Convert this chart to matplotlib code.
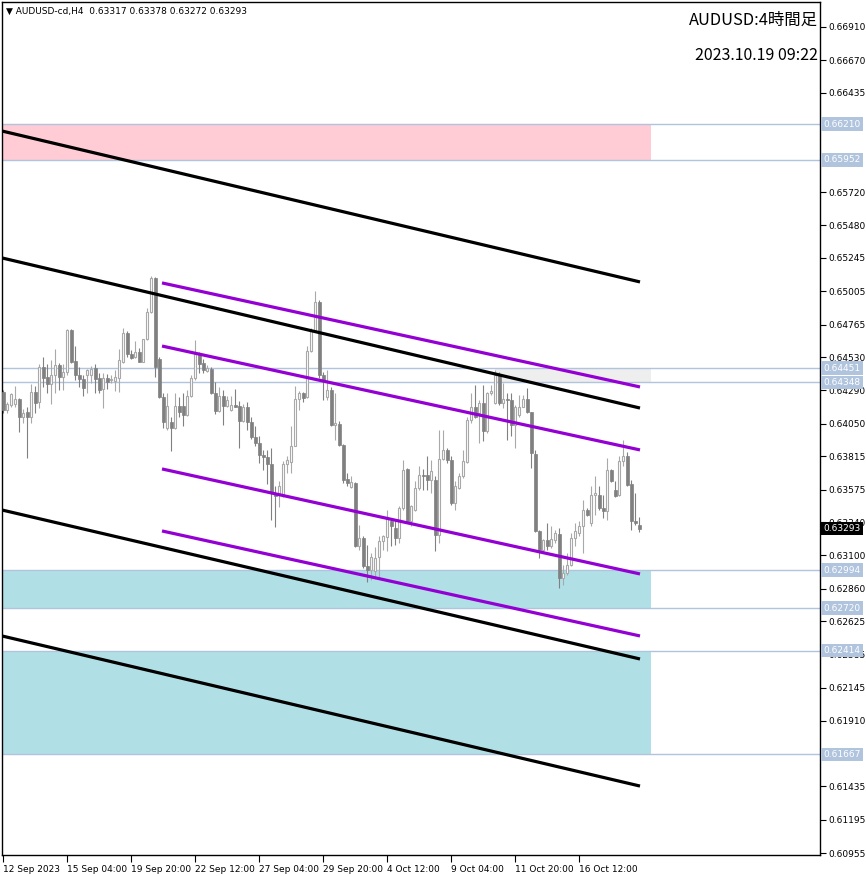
import matplotlib
matplotlib.use('Agg')
import matplotlib.pyplot as plt
from matplotlib.patches import Rectangle
import matplotlib.transforms as mtransforms

# ---------------- data ----------------
symbol_line = "AUDUSD-cd,H4  0.63317 0.63378 0.63272 0.63293"
title_right = "AUDUSD:4時間足"
time_right = "2023.10.19 09:22"

# OHLC of 4H bars (bar 0 = 12 Sep 2023 12:00)
ohlc = [
    (0.64282, 0.64294, 0.64126, 0.64150), (0.64150, 0.64210, 0.64126, 0.64193),
    (0.64186, 0.64270, 0.64174, 0.64263), (0.64191, 0.64323, 0.64174, 0.64227),
    (0.64227, 0.64234, 0.63987, 0.64102), (0.64097, 0.64157, 0.64054, 0.64126),
    (0.64131, 0.64174, 0.63802, 0.64102), (0.64102, 0.64337, 0.64054, 0.64277),
    (0.64277, 0.64323, 0.64126, 0.64198), (0.64210, 0.64481, 0.64162, 0.64462),
    (0.64462, 0.64529, 0.64318, 0.64383), (0.64385, 0.64481, 0.64275, 0.64335),
    (0.64335, 0.64510, 0.64193, 0.64404), (0.64402, 0.64589, 0.64270, 0.64474),
    (0.64472, 0.64486, 0.64294, 0.64390), (0.64385, 0.64481, 0.64294, 0.64426),
    (0.64421, 0.64731, 0.64402, 0.64726), (0.64726, 0.64731, 0.64486, 0.64498),
    (0.64503, 0.64611, 0.64366, 0.64402), (0.64402, 0.64457, 0.64313, 0.64371),
    (0.64373, 0.64402, 0.64251, 0.64306), (0.64402, 0.64448, 0.64275, 0.64438),
    (0.64402, 0.64467, 0.64342, 0.64443), (0.64450, 0.64481, 0.64270, 0.64373),
    (0.64383, 0.64414, 0.64270, 0.64294), (0.64299, 0.64414, 0.64162, 0.64383),
    (0.64383, 0.64409, 0.64299, 0.64354), (0.64366, 0.64402, 0.64342, 0.64373),
    (0.64361, 0.64438, 0.64287, 0.64385), (0.64378, 0.64587, 0.64282, 0.64510),
    (0.64498, 0.64738, 0.64486, 0.64702), (0.64707, 0.64721, 0.64534, 0.64551),
    (0.64551, 0.64582, 0.64515, 0.64522), (0.64534, 0.64649, 0.64522, 0.64565),
    (0.64568, 0.64594, 0.64493, 0.64498), (0.64498, 0.64664, 0.64493, 0.64659),
    (0.64659, 0.64882, 0.64654, 0.64853), (0.64853, 0.65117, 0.64846, 0.65098),
    (0.65098, 0.65105, 0.64390, 0.64462), (0.64517, 0.64529, 0.64234, 0.64241),
    (0.64241, 0.64275, 0.64018, 0.64059), (0.64018, 0.64270, 0.64006, 0.64179),
    (0.64061, 0.64102, 0.63850, 0.64018), (0.64018, 0.64270, 0.64013, 0.64181),
    (0.64179, 0.64246, 0.64102, 0.64136), (0.64179, 0.64270, 0.64037, 0.64112),
    (0.64112, 0.64294, 0.64107, 0.64251), (0.64251, 0.64402, 0.64246, 0.64383),
    (0.64378, 0.64654, 0.64366, 0.64553), (0.64553, 0.64570, 0.64414, 0.64481),
    (0.64491, 0.64517, 0.64414, 0.64438), (0.64433, 0.64474, 0.64426, 0.64450),
    (0.64443, 0.64462, 0.64265, 0.64270), (0.64275, 0.64354, 0.64121, 0.64145),
    (0.64145, 0.64318, 0.64131, 0.64251), (0.64251, 0.64294, 0.64042, 0.64179),
    (0.64181, 0.64251, 0.64174, 0.64222), (0.64150, 0.64251, 0.64145, 0.64186),
    (0.64186, 0.64299, 0.64169, 0.64174), (0.64181, 0.64217, 0.63874, 0.64066),
    (0.64066, 0.64193, 0.64061, 0.64174), (0.64174, 0.64210, 0.64006, 0.64061),
    (0.64061, 0.64102, 0.63941, 0.63951), (0.63951, 0.64037, 0.63886, 0.63910),
    (0.63910, 0.63958, 0.63766, 0.63826), (0.63826, 0.63862, 0.63713, 0.63809),
    (0.63809, 0.63862, 0.63617, 0.63761), (0.63761, 0.63874, 0.63358, 0.63550),
    (0.63550, 0.63598, 0.63308, 0.63526), (0.63538, 0.63634, 0.63452, 0.63598),
    (0.63538, 0.63778, 0.63521, 0.63761), (0.63761, 0.63814, 0.63694, 0.63785),
    (0.63773, 0.64030, 0.63694, 0.63891), (0.63891, 0.64323, 0.63886, 0.64227),
    (0.64227, 0.64289, 0.64150, 0.64270), (0.64270, 0.64282, 0.64210, 0.64234),
    (0.64241, 0.64611, 0.64234, 0.64577), (0.64577, 0.64738, 0.64570, 0.64719),
    (0.64719, 0.65007, 0.64714, 0.64930), (0.64930, 0.64942, 0.64378, 0.64402),
    (0.64402, 0.64426, 0.64222, 0.64366), (0.64246, 0.64438, 0.64222, 0.64294),
    (0.64294, 0.64318, 0.64030, 0.64042), (0.64042, 0.64270, 0.63934, 0.64054),
    (0.64049, 0.64071, 0.63886, 0.63893), (0.63898, 0.63905, 0.63622, 0.63646),
    (0.63651, 0.63694, 0.63598, 0.63622), (0.63591, 0.63670, 0.63586, 0.63629),
    (0.63622, 0.63627, 0.63161, 0.63166), (0.63166, 0.63322, 0.63142, 0.63226),
    (0.63226, 0.63238, 0.63010, 0.63022), (0.63027, 0.63178, 0.62910, 0.62998),
    (0.62998, 0.63118, 0.62920, 0.63087), (0.62991, 0.63161, 0.62930, 0.63082),
    (0.63087, 0.63238, 0.62940, 0.63202), (0.63202, 0.63250, 0.63142, 0.63238),
    (0.63233, 0.63430, 0.63130, 0.63370), (0.63346, 0.63370, 0.63166, 0.63310),
    (0.63298, 0.63358, 0.63178, 0.63226), (0.63226, 0.63454, 0.63190, 0.63442),
    (0.63442, 0.63790, 0.63430, 0.63718), (0.63723, 0.63730, 0.63334, 0.63346),
    (0.63346, 0.63466, 0.63310, 0.63454), (0.63430, 0.63634, 0.63418, 0.63586),
    (0.63586, 0.63742, 0.63574, 0.63682), (0.63682, 0.63723, 0.63574, 0.63670),
    (0.63682, 0.63819, 0.63574, 0.63646), (0.63646, 0.63790, 0.63550, 0.63706),
    (0.63646, 0.63670, 0.63130, 0.63250), (0.63250, 0.64006, 0.63190, 0.63795),
    (0.63795, 0.64006, 0.63790, 0.63862), (0.63862, 0.63874, 0.63766, 0.63790),
    (0.63790, 0.63814, 0.63466, 0.63478), (0.63478, 0.63634, 0.63430, 0.63598),
    (0.63586, 0.63694, 0.63579, 0.63670), (0.63670, 0.63862, 0.63658, 0.63778),
    (0.63771, 0.64102, 0.63766, 0.64078), (0.64078, 0.64275, 0.64054, 0.64174),
    (0.64174, 0.64330, 0.64090, 0.64102), (0.64126, 0.64222, 0.63910, 0.64198),
    (0.64198, 0.64330, 0.63922, 0.63994), (0.63994, 0.64282, 0.63982, 0.64270),
    (0.64270, 0.64330, 0.64258, 0.64287), (0.64198, 0.64438, 0.64193, 0.64402),
    (0.64402, 0.64426, 0.64186, 0.64198), (0.64198, 0.64342, 0.64162, 0.64227),
    (0.64227, 0.64270, 0.63934, 0.64222), (0.64222, 0.64270, 0.63958, 0.64042),
    (0.64042, 0.64186, 0.63874, 0.64174), (0.64114, 0.64258, 0.64102, 0.64174),
    (0.64174, 0.64258, 0.64169, 0.64227), (0.64227, 0.64306, 0.64126, 0.64131),
    (0.64131, 0.64138, 0.63730, 0.63838), (0.63833, 0.63862, 0.63269, 0.63274),
    (0.63274, 0.63286, 0.63082, 0.63142), (0.63142, 0.63218, 0.63118, 0.63214),
    (0.63214, 0.63334, 0.63142, 0.63166), (0.63166, 0.63310, 0.63154, 0.63219),
    (0.63214, 0.63286, 0.63190, 0.63262), (0.63257, 0.63298, 0.62866, 0.62938),
    (0.62938, 0.63034, 0.62890, 0.62974), (0.62974, 0.63118, 0.62962, 0.63034),
    (0.63034, 0.63262, 0.63027, 0.63226), (0.63226, 0.63334, 0.63166, 0.63274),
    (0.63262, 0.63346, 0.63238, 0.63310), (0.63310, 0.63502, 0.63118, 0.63430),
    (0.63425, 0.63442, 0.63382, 0.63394), (0.63334, 0.63598, 0.63310, 0.63538),
    (0.63538, 0.63670, 0.63394, 0.63550), (0.63538, 0.63598, 0.63430, 0.63442),
    (0.63442, 0.63538, 0.63370, 0.63418), (0.63418, 0.63802, 0.63358, 0.63718),
    (0.63713, 0.63723, 0.63627, 0.63634), (0.63574, 0.63634, 0.63521, 0.63526),
    (0.63538, 0.63814, 0.63531, 0.63778), (0.63778, 0.63934, 0.63742, 0.63814),
    (0.63814, 0.63843, 0.63598, 0.63610), (0.63617, 0.63646, 0.63286, 0.63346),
    (0.63351, 0.63550, 0.63322, 0.63334), (0.63317, 0.63378, 0.63272, 0.63293),
]
opens = [r[0] for r in ohlc]
highs = [r[1] for r in ohlc]
lows = [r[2] for r in ohlc]
closes = [r[3] for r in ohlc]
last_price = 0.63293

# horizontal levels (zone boundaries)
levels = [0.66210, 0.65952, 0.64451, 0.64348, 0.62994, 0.62720, 0.62414, 0.61667]
# zones
zone_low = [0.65952, 0.64348, 0.62720, 0.61667]
zone_high = [0.66210, 0.64451, 0.62994, 0.62414]
zone_start = [-0.25, 123.0, -0.25, -0.25]
zone_end = [162.0, 162.0, 162.0, 162.0]
zone_colors = ['#FFCCD5', '#EEEEEE', '#B0E0E6', '#B0E0E6']

# trend lines: (x0, y0, x1, y1)
black_lines = [
    (-0.25, 0.66160, 159.25, 0.65072),
    (-0.25, 0.65245, 159.25, 0.64163),
    (-0.25, 0.63428, 159.25, 0.62354),
    (-0.25, 0.62520, 159.25, 0.61438),
]
purple_lines = [
    (39.75, 0.65065, 159.25, 0.64315),
    (39.75, 0.64610, 159.25, 0.63861),
    (39.75, 0.63724, 159.25, 0.62967),
    (39.75, 0.63277, 159.25, 0.62520),
]

y_ticks = [0.66910, 0.66670, 0.66435, 0.66195, 0.65955, 0.65720, 0.65480, 0.65245,
           0.65005, 0.64765, 0.64530, 0.64290, 0.64050, 0.63815, 0.63575, 0.63340,
           0.63100, 0.62860, 0.62625, 0.62385, 0.62145, 0.61910, 0.61670, 0.61435,
           0.61195, 0.60955]
# tick labels fully hidden behind level labels in the reference
hidden_ticks = [0.66195, 0.65955, 0.61670]
x_tick_pos = [0, 16, 32, 48, 64, 80, 96, 112, 128, 144]
x_tick_labels = ['12 Sep 2023', '15 Sep 04:00', '19 Sep 20:00', '22 Sep 12:00',
                 '27 Sep 04:00', '29 Sep 20:00', '4 Oct 12:00', '9 Oct 04:00',
                 '11 Oct 20:00', '16 Oct 12:00']

# ---------------- figure ----------------
W, H = 866, 876
fig = plt.figure(figsize=(W / 100, H / 100), dpi=100)
fig.patch.set_facecolor('white')
ax = fig.add_axes([2 / W, 21 / H, 818 / W, 853 / H])
ax.set_xlim(-0.25, 204.25)
ax.set_ylim(0.60941, 0.67090)
ax.set_facecolor('white')

for lo, hi, xs, xe, c in zip(zone_low, zone_high, zone_start, zone_end, zone_colors):
    ax.add_patch(Rectangle((xs, lo), xe - xs, hi - lo, facecolor=c, edgecolor='none', zorder=0.5))

for lv in levels:
    ax.axhline(lv, color='#B0C4DE', lw=1.0, zorder=1)

# candles
bull_c = '#A9A9A9'
bear_c = '#808080'
xs = list(range(len(opens)))
wick_cols = [bull_c if c >= o else bear_c for o, c in zip(opens, closes)]
ax.vlines(xs, lows, highs, colors=wick_cols, lw=0.8, zorder=2)
for i, (o, c) in enumerate(zip(opens, closes)):
    bottom = min(o, c)
    h = max(abs(c - o), 0.00004)
    if c >= o:
        ax.add_patch(Rectangle((i - 0.32, bottom), 0.64, h, facecolor='white',
                               edgecolor=bull_c, lw=0.8, zorder=3))
    else:
        ax.add_patch(Rectangle((i - 0.375, bottom), 0.75, h, facecolor=bear_c,
                               edgecolor=bear_c, lw=0.5, zorder=3))

for x0, y0, x1, y1 in black_lines:
    ax.plot([x0, x1], [y0, y1], color='black', lw=2.3, solid_capstyle='butt', zorder=4)
for x0, y0, x1, y1 in purple_lines:
    ax.plot([x0, x1], [y0, y1], color='#9400D3', lw=2.3, solid_capstyle='butt', zorder=4)

# axes styling
for s in ax.spines.values():
    s.set_color('black')
    s.set_linewidth(1.0)
ax.yaxis.tick_right()
ax.set_yticks(y_ticks)
ax.set_yticklabels(['' if v in hidden_ticks else f'{v:.5f}' for v in y_ticks])
ax.tick_params(axis='y', direction='out', length=4, width=0.8, pad=2, labelsize=6.5,
               colors='black')
ax.set_xticks(x_tick_pos)
ax.set_xticklabels(x_tick_labels)
for lab in ax.get_xticklabels():
    lab.set_horizontalalignment('left')
ax.tick_params(axis='x', direction='out', length=5, width=0.8, pad=2, labelsize=6.5,
               colors='black')

# level labels on right axis
trans = mtransforms.blended_transform_factory(ax.transAxes, ax.transData)
for lv in levels:
    ax.text(1.004, lv, f'{lv:.5f}', transform=trans, fontsize=6.5, color='white',
            va='center', ha='left', clip_on=False, zorder=10,
            bbox=dict(boxstyle='square,pad=0.25', facecolor='#B0C4DE', edgecolor='none'))
ax.text(1.004, last_price, f'{last_price:.5f}', transform=trans, fontsize=6.5,
        color='white', va='center', ha='left', clip_on=False, zorder=10,
        bbox=dict(boxstyle='square,pad=0.25', facecolor='black', edgecolor='none'))

# texts
fig.text(6 / W, 1 - 11 / H, '▼ ' + symbol_line, fontsize=6.5, va='center', ha='left',
         family='DejaVu Sans')
fig.text(818 / W, 1 - 20 / H, title_right, fontsize=11.8, va='center', ha='right',
         family=['Noto Sans CJK JP', 'DejaVu Sans'])
fig.text(818 / W, 1 - 55 / H, time_right, fontsize=11.5, va='center', ha='right',
         family=['Noto Sans CJK JP', 'DejaVu Sans'])

fig.savefig('out.png', dpi=100)
